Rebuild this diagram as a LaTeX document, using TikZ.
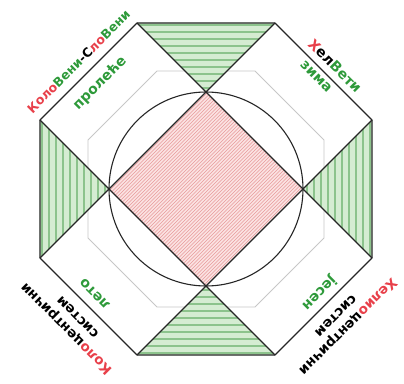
\documentclass[tikz,border=0pt]{standalone}
\usepackage{fontspec}
\setmainfont{DejaVu Sans}
\definecolor{lgreen}{HTML}{D5ECD2}
\definecolor{sgreen}{HTML}{8CC38C}
\definecolor{lpink}{HTML}{FBE2E2}
\definecolor{hpink}{HTML}{E79A9A}
\definecolor{tred}{HTML}{E8404A}
\definecolor{tgreen}{HTML}{2E9A3A}
\begin{document}
\begin{tikzpicture}[x=1pt,y=1pt,
  outline/.style={draw=black!85,line width=1.1pt,line join=round},
  greyline/.style={draw=black!22,line width=0.8pt},
  stripe/.style={draw=sgreen,line width=2.6pt},
  hatch/.style={draw=hpink,line width=0.6pt},
  lbl/.style={inner sep=0pt,font=\bfseries\fontsize{14}{14}\selectfont},
  lblmid/.style={inner sep=0pt,font=\bfseries\fontsize{13.5}{13.5}\selectfont},
  lblsmall/.style={inner sep=0pt,font=\bfseries\fontsize{12.5}{12.5}\selectfont}]
\useasboundingbox (-206,-194) rectangle (198,189);
% outer octagon
\coordinate (o1) at (-69,166); \coordinate (o2) at (69,166);
\coordinate (o3) at (166,69);  \coordinate (o4) at (166,-69);
\coordinate (o5) at (69,-166); \coordinate (o6) at (-69,-166);
\coordinate (o7) at (-166,-69);\coordinate (o8) at (-166,69);
% diamond
\coordinate (dt) at (0,97); \coordinate (dr) at (97,0);
\coordinate (db) at (0,-97); \coordinate (dl) at (-97,0);
\fill[white] (o1)--(o2)--(o3)--(o4)--(o5)--(o6)--(o7)--(o8)--cycle;
% grey inner octagon
\draw[greyline] (-49,118)--(49,118)--(118,49)--(118,-49)--(49,-118)--(-49,-118)--(-118,-49)--(-118,49)--cycle;
% pink diamond
\begin{scope}
\clip (dt)--(dr)--(db)--(dl)--cycle;
\fill[lpink] (-100,-100) rectangle (100,100);
\foreach \k in {-200,-196.5,...,200} \draw[hatch] (\k-100,-100)--(\k+100,100);
\end{scope}
% green triangles
\begin{scope}
\clip (o1)--(o2)--(dt)--cycle;
\fill[lgreen] (-80,90) rectangle (80,170);
\foreach \y in {101,108,...,166} \draw[stripe] (-80,\y)--(80,\y);
\end{scope}
\begin{scope}
\clip (o5)--(o6)--(db)--cycle;
\fill[lgreen] (-80,-90) rectangle (80,-170);
\foreach \y in {101,108,...,166} \draw[stripe] (-80,-\y)--(80,-\y);
\end{scope}
\begin{scope}
\clip (o3)--(o4)--(dr)--cycle;
\fill[lgreen] (90,-80) rectangle (170,80);
\foreach \x in {101,108,...,166} \draw[stripe] (\x,-80)--(\x,80);
\end{scope}
\begin{scope}
\clip (o7)--(o8)--(dl)--cycle;
\fill[lgreen] (-90,-80) rectangle (-170,80);
\foreach \x in {101,108,...,166} \draw[stripe] (-\x,-80)--(-\x,80);
\end{scope}
% outlines
\draw[outline] (o1)--(o2)--(o3)--(o4)--(o5)--(o6)--(o7)--(o8)--cycle;
\draw[outline] (o1)--(dt)--(o2) (o3)--(dr)--(o4) (o5)--(db)--(o6) (o7)--(dl)--(o8);
\draw[outline] (dt)--(dr)--(db)--(dl)--cycle;
\draw[outline] (0,0) circle (97);
% labels
\node[lblsmall,rotate=45] (ul1) at (-127.4,127.4) {\textcolor{tred}{Коло}\textcolor{tgreen}{Вени}-С\textcolor{tred}{ло}\textcolor{tgreen}{Вени}};
\node[lbl,rotate=45,text=tgreen] (ul2) at (-106,106) {пролеће};
\node[lbl,rotate=-45] (ur1) at (129,123) {\textcolor{tred}{Х}ел\textcolor{tgreen}{Вети}};
\node[lbl,rotate=-45,text=tgreen] (ur2) at (110,112) {зима};
\node[lblmid,rotate=225] (lr1) at (141.5,-137.2) {\textcolor{tred}{Хелио}центрични};
\node[lblmid,rotate=225] (lr2) at (129.5,-126.7) {систем};
\node[lbl,rotate=225,text=tgreen] (lr3) at (113,-104) {јесен};
\node[lblmid,rotate=135] (ll1) at (-139.4,-139.4) {\textcolor{tred}{Коло}центрични};
\node[lblmid,rotate=135] (ll2) at (-128.1,-128.1) {систем};
\node[lbl,rotate=135,text=tgreen] (ll3) at (-111,-105) {лето};
\end{tikzpicture}
\end{document}
